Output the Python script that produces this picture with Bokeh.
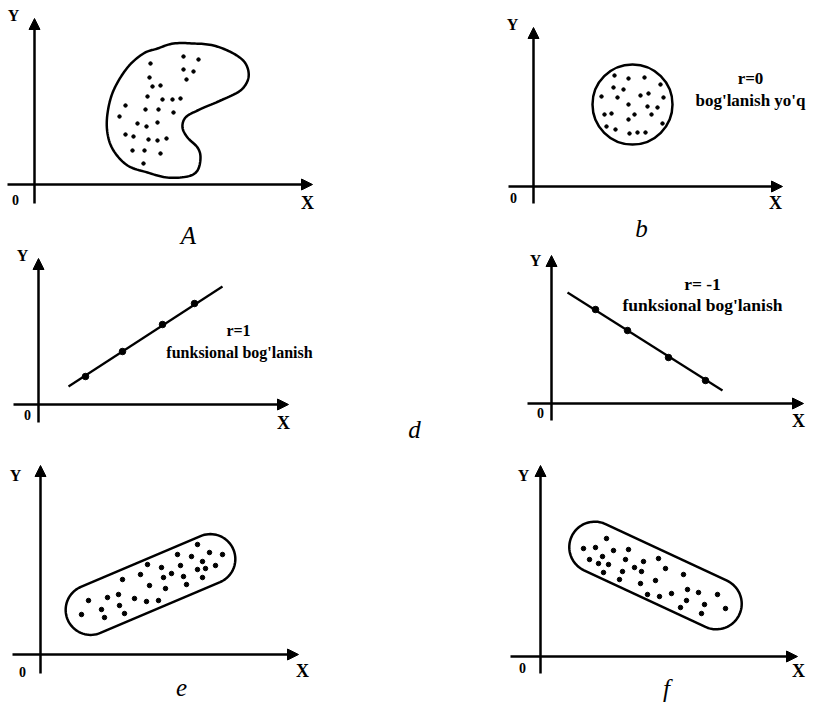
import numpy as np
from bokeh.plotting import figure
from bokeh.models import Range1d, Arrow, NormalHead
from bokeh.core.properties import value
from bokeh.embed import file_html
from bokeh.resources import INLINE

# ---------------- data (each panel in its own units, origin at the axes' crossing) ----------
# Panel A: irregular cloud
a_outline_x = [109, 93, 79, 73, 73, 79, 93, 113, 133, 153, 163, 166, 163, 153, 148, 151, 163, 186, 206, 214, 211, 199, 179, 159, 139, 123]
a_outline_y = [131, 117, 94, 71, 51, 34, 19, 12, 7, 8, 14, 27, 37, 47, 57, 67, 74, 84, 94, 107, 121, 131, 139, 141, 141, 136]
a_dots_x = [116, 149, 164, 149, 159, 152, 115, 118, 126, 113, 128, 138, 146, 91, 111, 124, 139, 85, 103, 112, 123, 91, 99, 114, 123, 132, 98, 110, 126, 109]
a_dots_y = [121, 128, 125, 115, 113, 105, 107, 98, 99, 88, 85, 85, 86, 79, 75, 75, 72, 68, 61, 58, 62, 50, 48, 45, 44, 46, 34, 34, 31, 21]

# Panel b: r = 0
b_circle = (99, 82, 40)
b_dots_x = [81, 95, 111, 127, 80, 90, 107, 115, 68, 84, 130, 95, 114, 124, 71, 78, 101, 118, 95, 129, 73, 82, 96, 104, 112]
b_dots_y = [111, 108, 109, 102, 99, 97, 91, 93, 90, 89, 89, 82, 80, 79, 72, 73, 72, 72, 67, 63, 60, 57, 53, 54, 54]

# Panel d (left): r = 1
dl_line_x = [30, 184]
dl_line_y = [18, 118]
dl_dots_x = [47, 84, 124, 156]
dl_dots_y = [28, 53, 80, 101]

# Panel d (right): r = -1
dr_line_x = [16, 171]
dr_line_y = [111, 13]
dr_dots_x = [44, 76, 117, 154]
dr_dots_y = [94, 73, 46, 23]

# Panel e: positive correlation cloud
e_band = dict(cx=110, cy=70, angle=23, half_len=65, radius=25)
e_dots_x = [157, 169, 182, 137, 151, 162, 175, 107, 121, 140, 157, 165, 100, 123, 131, 143, 162, 82, 109, 125, 146, 48, 67, 78, 94, 106, 118, 79, 61, 41, 64, 84]
e_dots_y = [110, 102, 100, 100, 98, 93, 89, 90, 87, 89, 85, 86, 80, 77, 81, 78, 77, 75, 69, 66, 70, 54, 57, 60, 56, 53, 54, 49, 45, 40, 37, 41]

# Panel f: negative correlation cloud
f_band = dict(cx=115, cy=81, angle=-25, half_len=67, radius=25.5)
f_dots_x = [66, 43, 55, 73, 88, 49, 62, 85, 103, 118, 58, 68, 94, 101, 125, 63, 82, 79, 100, 115, 143, 107, 119, 131, 147, 158, 177, 146, 164, 140, 185, 161]
f_dots_y = [118, 108, 109, 106, 107, 97, 100, 97, 95, 98, 93, 92, 89, 85, 88, 84, 85, 77, 73, 76, 82, 62, 60, 63, 67, 64, 62, 56, 52, 49, 48, 43]

# Texts
panel_names = ["A", "b", "dl", "dr", "e", "f"]
sub_labels = {"A": "A", "b": "b", "dl": "d", "e": "e", "f": "f"}
note_b = ["r=0", "bog'lanish yo'q"]
note_dl = ["r=1", "funksional bog'lanish"]
note_dr = ["r= -1", "funksional bog'lanish"]

# ---------------- layout (positions only) ----------------
W, H = 815, 702
PAGE_X0, PAGE_Y0 = 0, 0
origins = {"A": (34, 184), "b": (533, 186), "dl": (38, 404), "dr": (551, 403), "e": (40, 654), "f": (540, 656)}
axis_ext = {  # (x_from, x_to, y_from, y_to)
    "A": (-27, 278, -19, 166), "b": (-25, 249, -17, 159), "dl": (-25, 250, -18, 146),
    "dr": (-24, 252, -17, 148), "e": (-28, 258, -19, 189), "f": (-30, 257, -17, 191),
}
lab_pos = {  # Y, 0, X label positions
    "A": [(-21, 169), (-19, -15), (273, -18)], "b": [(-21, 162), (-20, -11), (242, -16)],
    "dl": [(-16, 149), (-11, -10), (245, -18)], "dr": [(-16, 143), (-11, -9), (247, -17)],
    "e": [(-25, 179), (-18, -17), (262, -16)], "f": [(-17, 181), (-18, -11), (258, -14)],
}
sub_pos = {"A": (154, -51), "b": (108, -42), "dl": (376, -25), "e": (141, -33), "f": (126, -32)}
note_pos = {"b": [(217, 108), (217, 86)], "dl": [(200, 74), (201, 52)], "dr": [(151, 120), (151, 99)]}

p = figure(width=W, height=H, x_range=Range1d(PAGE_X0, PAGE_X0 + W), y_range=Range1d(PAGE_Y0 + H, PAGE_Y0),
           output_backend="svg", toolbar_location=None, min_border=0,
           x_axis_type=None, y_axis_type=None, outline_line_color=None,
           background_fill_color="white", border_fill_color="white")
p.xgrid.visible = False
p.ygrid.visible = False

for name in panel_names:
    ox, oy = origins[name]
    p.extra_x_ranges[name] = Range1d(PAGE_X0 - ox, PAGE_X0 + W - ox)
    p.extra_y_ranges[name] = Range1d(oy - (PAGE_Y0 + H), oy - PAGE_Y0)

BOLD = dict(text_font=value("Liberation Serif"), text_font_style="bold", text_color="black",
            text_align="center", text_baseline="middle")
ITAL = dict(text_font=value("Liberation Serif"), text_font_style="italic", text_color="black",
            text_align="center", text_baseline="middle", text_font_size="25px")


def smooth_closed(xs, ys, n=10):
    P = np.column_stack([xs, ys]).astype(float)
    N = len(P)
    out = []
    for i in range(N):
        p0, p1, p2, p3 = P[i - 1], P[i], P[(i + 1) % N], P[(i + 2) % N]
        for t in np.linspace(0, 1, n, endpoint=False):
            t2, t3 = t * t, t * t * t
            out.append(0.5 * (2 * p1 + (-p0 + p2) * t + (2 * p0 - 5 * p1 + 4 * p2 - p3) * t2
                              + (-p0 + 3 * p1 - 3 * p2 + p3) * t3))
    out.append(out[0])
    out = np.array(out)
    return out[:, 0], out[:, 1]


def stadium(cx, cy, angle, half_len, radius, n=40):
    a = np.radians(angle)
    u = np.array([np.cos(a), np.sin(a)])
    v = np.array([-np.sin(a), np.cos(a)])
    c = np.array([cx, cy])
    pts = []
    for t in np.linspace(-np.pi / 2, np.pi / 2, n):
        pts.append(c + half_len * u + radius * (np.cos(t) * u + np.sin(t) * v))
    for t in np.linspace(np.pi / 2, 3 * np.pi / 2, n):
        pts.append(c - half_len * u + radius * (np.cos(t) * u + np.sin(t) * v))
    pts.append(pts[0])
    pts = np.array(pts)
    return pts[:, 0], pts[:, 1]


def rn(name):
    return dict(x_range_name=name, y_range_name=name)


# axes with arrows and labels
for name in panel_names:
    x0, x1, y0, y1 = axis_ext[name]
    for (xs, ys, xe, ye) in [(x0, 0, x1, 0), (0, y0, 0, y1)]:
        p.add_layout(Arrow(end=NormalHead(size=11, fill_color="black", line_color="black", line_width=1),
                           x_start=xs, y_start=ys, x_end=xe, y_end=ye, line_width=2.5,
                           line_color="black", **rn(name)))
    (yx, yy), (zx, zy), (xx, xy) = lab_pos[name]
    p.text(x=[yx], y=[yy], text=["Y"], text_font_size="16px", **BOLD, **rn(name))
    p.text(x=[zx], y=[zy], text=["0"], text_font_size="14px", **BOLD, **rn(name))
    p.text(x=[xx], y=[xy], text=["X"], text_font_size="18px", **BOLD, **rn(name))

# Panel A
ax, ay = smooth_closed(a_outline_x, a_outline_y)
p.line(ax, ay, line_color="black", line_width=2.5, **rn("A"))
p.scatter(a_dots_x, a_dots_y, size=3.5, color="black", **rn("A"))

# Panel b
cx, cy, cr = b_circle
p.circle(x=[cx], y=[cy], radius=cr, fill_color=None, line_color="black", line_width=2.5, **rn("b"))
p.scatter(b_dots_x, b_dots_y, size=3.5, color="black", **rn("b"))
(n1x, n1y), (n2x, n2y) = note_pos["b"]
p.text(x=[n1x, n2x], y=[n1y, n2y], text=note_b, text_font_size="17px", **BOLD, **rn("b"))

# Panel d left
p.line(dl_line_x, dl_line_y, line_color="black", line_width=2.2, **rn("dl"))
p.scatter(dl_dots_x, dl_dots_y, size=6.5, color="black", **rn("dl"))
(n1x, n1y), (n2x, n2y) = note_pos["dl"]
p.text(x=[n1x, n2x], y=[n1y, n2y], text=note_dl, text_font_size="16px", **BOLD, **rn("dl"))

# Panel d right
p.line(dr_line_x, dr_line_y, line_color="black", line_width=2.2, **rn("dr"))
p.scatter(dr_dots_x, dr_dots_y, size=6.5, color="black", **rn("dr"))
(n1x, n1y), (n2x, n2y) = note_pos["dr"]
p.text(x=[n1x, n2x], y=[n1y, n2y], text=note_dr, text_font_size="17.5px", **BOLD, **rn("dr"))

# Panel e
ex, ey = stadium(**e_band)
p.line(ex, ey, line_color="black", line_width=2.5, **rn("e"))
p.scatter(e_dots_x, e_dots_y, size=4.5, color="black", **rn("e"))

# Panel f
fx, fy = stadium(**f_band)
p.line(fx, fy, line_color="black", line_width=2.5, **rn("f"))
p.scatter(f_dots_x, f_dots_y, size=4.5, color="black", **rn("f"))

# sub-figure letters
for key, lab in sub_labels.items():
    sx, sy = sub_pos[key]
    p.text(x=[sx], y=[sy], text=[lab], **ITAL, **rn(key))

open("out.html", "w").write(file_html(p, INLINE))
